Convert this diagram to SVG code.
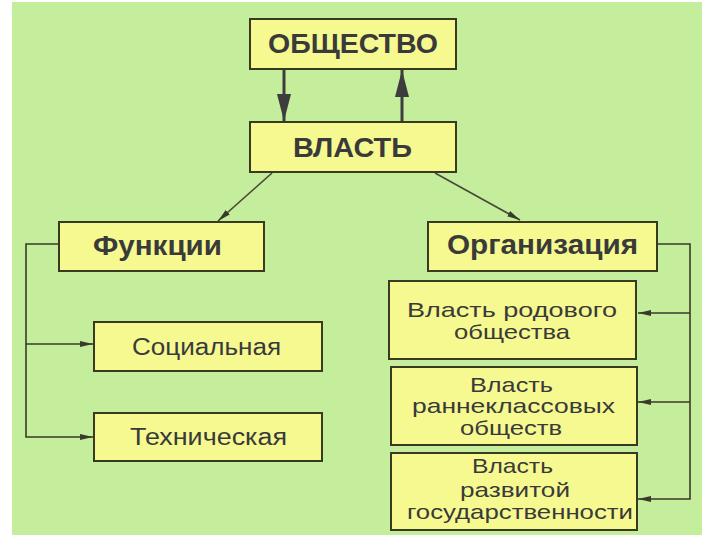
<svg xmlns="http://www.w3.org/2000/svg" width="720" height="540" viewBox="0 0 720 540">
<style>
.box{fill:#f5f98f;stroke:#3a3a22;stroke-width:2}
.b{font-family:"Liberation Sans",Arial,sans-serif;font-weight:bold;fill:#3a3a3a;text-anchor:middle}
.n{font-family:"Liberation Sans",Arial,sans-serif;fill:#3a3a3a;text-anchor:middle;font-size:21px}
.thick{stroke:#3d3d3d;stroke-width:3;fill:none}
.thin{stroke:#3a3a2a;stroke-width:1.6;fill:none}
.diag{stroke:#4a4a3a;stroke-width:1.6;fill:none}
</style>
<defs>
<marker id="big" markerUnits="userSpaceOnUse" markerWidth="28" markerHeight="16" refX="27" refY="7" orient="auto"><path d="M0,0 L27,7 L0,14 z" fill="#3d3d3d"/></marker>
<marker id="sm" markerUnits="userSpaceOnUse" markerWidth="14" markerHeight="8" refX="13" refY="3" orient="auto"><path d="M0,0 L13,3 L0,6 z" fill="#3a3a2a"/></marker>
</defs>
<rect x="0" y="0" width="720" height="540" fill="#ffffff"/>
<rect x="12" y="2" width="690" height="533" fill="#c4ee9b"/>
<g id="connectors">
<line class="thick" x1="284" y1="70" x2="284" y2="121" marker-end="url(#big)"/>
<line class="thick" x1="402" y1="121" x2="402" y2="70" marker-end="url(#big)"/>
<line class="diag" x1="272" y1="173" x2="218" y2="221" marker-end="url(#sm)"/>
<line class="diag" x1="435" y1="173" x2="520" y2="220" marker-end="url(#sm)"/>
<polyline class="thin" points="59,244 26,244 26,437 93,437" marker-end="url(#sm)"/>
<line class="thin" x1="26" y1="344" x2="93" y2="344" marker-end="url(#sm)"/>
<polyline class="thin" points="657,244 690,244 690,499 638,499" marker-end="url(#sm)"/>
<line class="thin" x1="690" y1="313" x2="638" y2="313" marker-end="url(#sm)"/>
<line class="thin" x1="690" y1="402" x2="638" y2="402" marker-end="url(#sm)"/>
</g>
<g id="obshchestvo"><rect class="box" x="250" y="19" width="206" height="50"/><text class="b" x="353" y="53" font-size="28" textLength="170" lengthAdjust="spacingAndGlyphs">ОБЩЕСТВО</text></g>
<g id="vlast"><rect class="box" x="250" y="122" width="206" height="50"/><text class="b" x="352.5" y="157" font-size="27" textLength="119" lengthAdjust="spacingAndGlyphs">ВЛАСТЬ</text></g>
<g id="funktsii"><rect class="box" x="59" y="222" width="205" height="49"/><text class="b" x="157.5" y="255" font-size="27" textLength="129" lengthAdjust="spacingAndGlyphs">Функции</text></g>
<g id="organizatsiya"><rect class="box" x="428" y="222" width="229" height="49"/><text class="b" x="542.5" y="254" font-size="27" textLength="191" lengthAdjust="spacingAndGlyphs">Организация</text></g>
<g id="sotsialnaya"><rect class="box" x="94" y="322" width="228" height="49"/><text class="n" x="206.5" y="355" style="font-size:23px" textLength="149" lengthAdjust="spacingAndGlyphs">Социальная</text></g>
<g id="tekhnicheskaya"><rect class="box" x="94" y="413" width="228" height="48"/><text class="n" x="208.5" y="445" style="font-size:23px" textLength="157" lengthAdjust="spacingAndGlyphs">Техническая</text></g>
<g id="rodovoe"><rect class="box" x="389" y="281" width="247" height="78"/>
<text class="n" x="512" y="317" textLength="210" lengthAdjust="spacingAndGlyphs">Власть родового</text>
<text class="n" x="512" y="339" textLength="116" lengthAdjust="spacingAndGlyphs">общества</text></g>
<g id="ranneklassovye"><rect class="box" x="391" y="367" width="246" height="78"/>
<text class="n" x="511.5" y="392" textLength="83" lengthAdjust="spacingAndGlyphs">Власть</text>
<text class="n" x="513.5" y="413" textLength="203" lengthAdjust="spacingAndGlyphs">раннеклассовых</text>
<text class="n" x="511" y="435" textLength="102" lengthAdjust="spacingAndGlyphs">обществ</text></g>
<g id="razvitaya"><rect class="box" x="391" y="453" width="246" height="77"/>
<text class="n" x="512.5" y="473" textLength="81" lengthAdjust="spacingAndGlyphs">Власть</text>
<text class="n" x="515" y="497" textLength="110" lengthAdjust="spacingAndGlyphs">развитой</text>
<text class="n" x="520" y="519" textLength="226" lengthAdjust="spacingAndGlyphs">государственности</text></g>
</svg>
